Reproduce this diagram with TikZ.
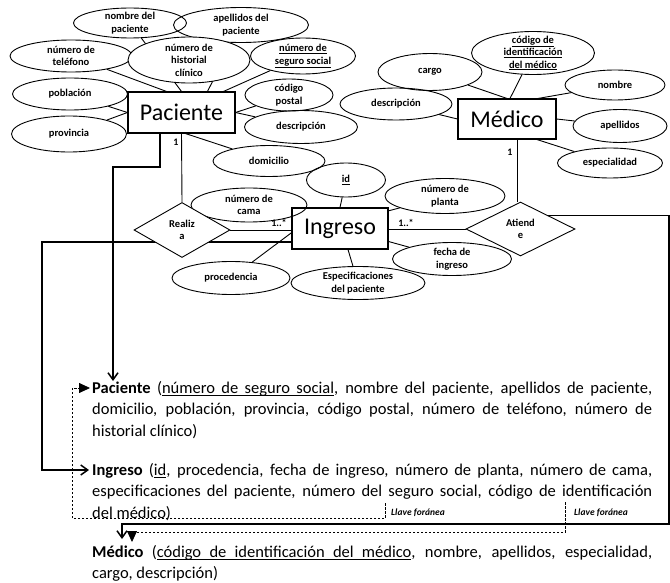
\documentclass[tikz,border=0pt]{standalone}
\usepackage{fontspec}
\setmainfont{Carlito}
\usetikzlibrary{shapes.geometric,arrows.meta}
\pgfdeclarelayer{bg}
\pgfsetlayers{bg,main}
\newcommand\uw[1]{\leavevmode\setbox0\hbox{#1}\rlap{\vrule height -2.2pt depth 3.1pt width \wd0}\box0}
\newcommand\us{\leaders\vrule height -2.2pt depth 3.1pt\hskip\fontdimen2\font plus\fontdimen3\font minus\fontdimen4\font\relax}
\begin{document}
\begin{tikzpicture}[x=1pt,y=-1pt,
  attr/.style={ellipse, draw, line width=0.9pt, inner xsep=0pt, inner ysep=-5pt, align=center,
    font=\fontsize{10.5}{12.5}\selectfont\bfseries},
  ent/.style={rectangle, draw, line width=1.1pt, inner sep=0pt, fill=white, font=\fontsize{24}{28}\selectfont},
  rel/.style={diamond, draw, line width=0.9pt, fill=white, inner sep=0pt, align=center,
    font=\fontsize{10.5}{12.5}\selectfont\bfseries},
  conn/.style={line width=0.9pt},
  route/.style={line width=1.5pt},
  fk/.style={dash pattern=on 2.5pt off 1.5pt, line width=0.8pt},
  barb/.style={-{Straight Barb[length=7pt,width=10pt]}},
  tri/.style={-{Triangle[length=11pt,width=10pt]}},
  card/.style={font=\fontsize{10}{12}\selectfont\bfseries, inner sep=0pt},
  schema/.style={anchor=base west, text width=560pt, inner sep=0pt, align=justify,
    font=\fontsize{16.5}{21.5}\selectfont},
  note/.style={font=\fontsize{9.5}{11}\selectfont\bfseries\itshape, inner sep=0pt, anchor=west}
]
\useasboundingbox (0,0) rectangle (670,583);

% ---------- Paciente ----------
\node[ent, minimum width=107pt, minimum height=41pt] (pac) at (181.5,112.5) {Paciente};
\node[attr, minimum width=113pt, minimum height=30pt] (pnom) at (130,23) {nombre del\\paciente};
\node[attr, minimum width=135pt, minimum height=35pt] (pape) at (241,25) {apellidos del\\paciente};
\node[attr, minimum width=122pt, minimum height=32pt] (ptel) at (71,56) {número de\\teléfono};
\node[attr, minimum width=122pt, minimum height=46pt, fill=white] (phis) at (189,60) {número de\\historial\\clínico};
\node[attr, minimum width=105pt, minimum height=36pt] (pseg) at (303,56) {\underline{número de}\\\underline{seguro social}};
\node[attr, minimum width=115pt, minimum height=32pt] (ppob) at (70,94) {población};
\node[attr, minimum width=115pt, minimum height=36pt] (pprov) at (69,134) {provincia};
\node[attr, minimum width=88pt, minimum height=32pt] (pcod) at (289,95) {código\\postal};
\node[attr, minimum width=113pt, minimum height=33pt] (pdes) at (301,127) {descripción};
\node[attr, minimum width=112pt, minimum height=31pt] (pdom) at (269,161) {domicilio};

% ---------- Medico ----------
\node[ent, minimum width=98pt, minimum height=40pt] (med) at (507,119) {Médico};
\node[attr, minimum width=123pt, minimum height=43pt] (mcod) at (533,53) {\underline{código de}\\\underline{identificación}\\\underline{del médico}};
\node[attr, minimum width=104pt, minimum height=37pt] (mcar) at (430,72) {cargo};
\node[attr, minimum width=100pt, minimum height=30pt] (mnom) at (615,85) {nombre};
\node[attr, minimum width=112pt, minimum height=32pt] (mdes) at (396,104) {descripción};
\node[attr, minimum width=94pt, minimum height=33pt] (mape) at (620,126) {apellidos};
\node[attr, minimum width=105pt, minimum height=30pt] (mesp) at (610,163) {especialidad};

% ---------- Ingreso ----------
\node[ent, minimum width=96pt, minimum height=41pt] (ing) at (340,228.5) {Ingreso};
\node[attr, minimum width=79pt, minimum height=34pt] (iid) at (346,180) {\underline{id}};
\node[attr, minimum width=116pt, minimum height=34pt] (icam) at (249,205) {número de\\cama};
\node[attr, minimum width=120pt, minimum height=35pt] (ipla) at (445,196) {número de\\planta};
\node[attr, minimum width=119pt, minimum height=33pt] (ifec) at (452,259) {fecha de\\ingreso};
\node[attr, minimum width=118pt, minimum height=33pt] (ipro) at (231,278) {procedencia};
\node[attr, minimum width=134pt, minimum height=33pt] (iesp) at (358,283) {Especificaciones\\del paciente};

% ---------- Relationships ----------
\node[rel, minimum width=96pt, minimum height=55pt] (rea) at (182,230) {Realiz\\a};
\node[rel, minimum width=109pt, minimum height=54pt] (ati) at (520.5,229) {Atiend\\e};

\node[card] (c1) at (176,142) {1};
\node[card] (c2) at (279,223) {1..*};
\node[card] (c3) at (406,223) {1..*};
\node[card] (c4) at (510,152) {1};

% ---------- Relational schema ----------
\node[schema] (tpac) at (92,393) {\textbf{Paciente} (\uw{número}\us\uw{de}\us\uw{seguro}\us\uw{social}, nombre del paciente, apellidos de paciente,\linebreak domicilio, población, provincia, código postal, número de teléfono, número de\linebreak historial clínico)};
\node[schema] (ting) at (92,475) {\textbf{Ingreso} (\uw{id}, procedencia, fecha de ingreso, número de planta, número de cama,\linebreak especificaciones del paciente, número del seguro social, código de identificación\linebreak del médico)};
\node[schema] (tmed) at (92,557) {\textbf{Médico} (\uw{código}\us\uw{de}\us\uw{identificación}\us\uw{del}\us\uw{médico}, nombre, apellidos, especialidad,\linebreak cargo, descripción)};
\node[note] (ll1) at (391,513) {Llave foránea};
\node[note] (ll2) at (574,513) {Llave foránea};

\coordinate (k1) at (113,167);
\coordinate (ptip) at (113,381);
\coordinate (k2) at (42,242);
\coordinate (itip) at (89,470);
\coordinate (k3) at (669,524);
\coordinate (mtip) at (122,539);
\coordinate (f1a) at (385,503);
\coordinate (f1b) at (72,518);
\coordinate (f1tip) at (90,388);
\coordinate (f2a) at (565,502);
\coordinate (f2b) at (132,532);
\coordinate (f2tip) at (132,542);

\begin{pgfonlayer}{bg}
  % Paciente attributes
  \draw[conn] (pnom) -- (pac.north);
  \draw[conn] (pape) -- ([xshift=26pt]pac.north);
  \draw[conn] (ptel) -- ([xshift=-15pt]pac.north);
  \draw[conn] (pseg) -- ([xshift=42pt]pac.north);
  \draw[conn] (ppob) -- (pac.west);
  \draw[conn] (pprov) -- (pac.west);
  \draw[conn] (pcod) -- (pac.east);
  \draw[conn] (pdes) -- (pac.east);
  \draw[conn] (pdom) -- ([xshift=4pt]pac.south);
  % Medico attributes
  \draw[conn] (mcar) -- (med.north);
  \draw[conn] (mcod) -- ([xshift=3pt]med.north);
  \draw[conn] (mnom) -- ([xshift=31pt]med.north);
  \draw[conn] (mdes) -- (med.west);
  \draw[conn] (med.east) -- (mape);
  \draw[conn] ([xshift=30pt]med.south) -- (mesp);
  % Ingreso attributes
  \draw[conn] (iid) -- (ing.north);
  \draw[conn] (icam) -- (ing.160);
  \draw[conn] (ipla) -- (ing.20);
  \draw[conn] (ing.-15) -- (ifec);
  \draw[conn] (ing.185) -- (ipro);
  \draw[conn] ([xshift=8pt]ing.south) -- (iesp);
  % relationships
  \draw[conn] (pac.south) -- (rea.north);
  \draw[conn] (rea.east) -- (ing.west |- rea.east);
  \draw[conn] (ing.east |- ati.west) -- (ati.west);
  \draw[conn, double, double distance=6pt] (med.south -| ati.north) -- (ati.north);
  % routing lines
  \draw[route, barb] ([xshift=-21.5pt]pac.south) |- (k1) -- (ptip);
  \draw[route, barb] (ing.west |- k2) -- (k2) |- (itip);
  \draw[route, barb] (ati.north east) -| (k3) -| (mtip);
  \draw[fk, tri] (f1a) |- (f1b) |- (f1tip);
  \draw[fk, tri] (f2a) |- (f2b) -- (f2tip);
\end{pgfonlayer}
\end{tikzpicture}
\end{document}
